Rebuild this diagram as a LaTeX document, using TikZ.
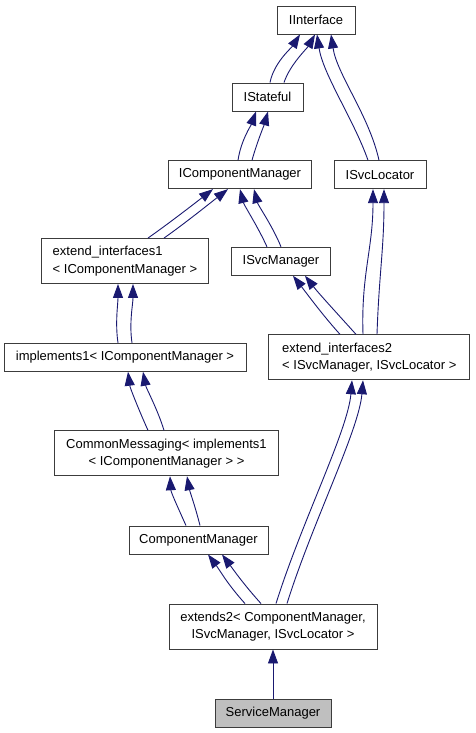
\documentclass[tikz,border=0pt]{standalone}
\usepackage{fontspec}
\setmainfont{Liberation Sans}
\usepackage{tikz}
\usetikzlibrary{arrows.meta}
\definecolor{edgeblue}{RGB}{25,25,112}
\definecolor{boxline}{RGB}{60,60,60}

\begin{document}
\begin{tikzpicture}[x=1pt, y=-1pt, font=\fontsize{13}{17.3}\selectfont]
      % Styles
      \tikzset{classbox/.style={draw=boxline, line width=0.9pt, fill=white, inner sep=0pt, minimum height=28pt}}
      \tikzset{twoline/.style={classbox, minimum height=45pt}}
      \tikzset{focusbox/.style={classbox, fill=black!25}}
      \tikzset{inherit/.style={draw=edgeblue, line width=0.9pt, -{Triangle[length=14pt, width=10pt]}}}

      \useasboundingbox (0,0) rectangle (475,733);

      % --- Interfaces at the top ---
      \node[classbox, minimum width=78pt] (iinterface) at (316,20) {IInterface};
      \node[classbox, minimum width=71pt] (istateful) at (267.5,97) {IStateful};
      \node[classbox, minimum width=143pt] (icompmgr) at (240,174.7) {IComponentManager};
      \node[classbox, minimum width=92pt] (isvcloc) at (380,174.7) {ISvcLocator};
      \node[classbox, minimum width=99pt] (isvcmgr) at (281,261.3) {ISvcManager};

      % --- Templates in the middle ---
      \node[twoline, minimum width=167pt, align=left] (extif1) at (125,261) {extend\_interfaces1\\< IComponentManager >};
      \node[classbox, minimum width=242pt] (impl1) at (125,357.3) {implements1< IComponentManager >};
      \node[twoline, minimum width=201pt, align=left] (extif2) at (369.3,357.3) {extend\_interfaces2\\< ISvcManager, ISvcLocator >};
      \node[twoline, minimum width=224pt, align=center] (commsg) at (166.5,453.3) {CommonMessaging< implements1\\< IComponentManager > >};

      % --- Concrete classes at the bottom ---
      \node[classbox, minimum width=139pt] (compmgr) at (198.5,540) {ComponentManager};
      \node[twoline, minimum width=208pt, align=center] (extends2) at (273,626.5) {extends2< ComponentManager,\\ISvcManager, ISvcLocator >};
      \node[focusbox, minimum width=116pt] (svcmgr) at (273,713) {ServiceManager};

      % --- Inheritance edges (doubled, as in the graph) ---
      \draw[inherit] ([xshift=2.5pt]istateful.north) .. controls +(4,-20) and +(-9,14) .. ([xshift=-16pt]iinterface.south);
      \draw[inherit] ([xshift=16.5pt]istateful.north) .. controls +(6,-18) and +(-8,14) .. ([xshift=-1pt]iinterface.south);

      \draw[inherit] ([xshift=-12pt]isvcloc.north) .. controls +(-14,-40) and +(6,40) .. ([xshift=1pt]iinterface.south);
      \draw[inherit] ([xshift=-1pt]isvcloc.north) .. controls +(-10,-45) and +(6,40) .. ([xshift=15pt]iinterface.south);

      \draw[inherit] ([xshift=-2pt]icompmgr.north) .. controls +(3,-20) and +(-5,14) .. ([xshift=-11.5pt]istateful.south);
      \draw[inherit] ([xshift=12pt]icompmgr.north) .. controls +(5,-18) and +(-4,14) .. ([xshift=0.5pt]istateful.south);

      \draw[inherit] ([xshift=23pt]extif1.north) .. controls +(20,-14) and +(-18,14) .. ([xshift=-27pt]icompmgr.south);
      \draw[inherit] ([xshift=39pt]extif1.north) .. controls +(20,-14) and +(-18,14) .. ([xshift=-12pt]icompmgr.south);

      \draw[inherit] ([xshift=-14pt]isvcmgr.north) .. controls +(-9,-20) and +(4,16) .. ([xshift=0pt]icompmgr.south);
      \draw[inherit] ([xshift=0pt]isvcmgr.north) .. controls +(-8,-20) and +(4,16) .. ([xshift=14pt]icompmgr.south);

      \draw[inherit] ([xshift=-29.3pt]extif2.north) .. controls +(-18,-20) and +(14,18) .. ([xshift=12pt]isvcmgr.south);
      \draw[inherit] ([xshift=-13.3pt]extif2.north) .. controls +(-18,-20) and +(14,18) .. ([xshift=24pt]isvcmgr.south);

      \draw[inherit] ([xshift=-6.3pt]extif2.north) .. controls +(-2,-60) and +(0,60) .. ([xshift=-7pt]isvcloc.south);
      \draw[inherit] ([xshift=7.7pt]extif2.north) .. controls +(2,-60) and +(0,60) .. ([xshift=4pt]isvcloc.south);

      \draw[inherit] ([xshift=-7pt]impl1.north) .. controls +(-3,-20) and +(0,20) .. ([xshift=-7pt]extif1.south);
      \draw[inherit] ([xshift=7pt]impl1.north) .. controls +(-3,-20) and +(0,20) .. ([xshift=8pt]extif1.south);

      \draw[inherit] ([xshift=-18.5pt]commsg.north) .. controls +(-9,-20) and +(2,16) .. ([xshift=3pt]impl1.south);
      \draw[inherit] ([xshift=-2.5pt]commsg.north) .. controls +(-6,-20) and +(3,16) .. ([xshift=18pt]impl1.south);

      \draw[inherit] ([xshift=-12.5pt]compmgr.north) .. controls +(-9,-20) and +(1,16) .. ([xshift=3.5pt]commsg.south);
      \draw[inherit] ([xshift=1.5pt]compmgr.north) .. controls +(-5,-20) and +(3,16) .. ([xshift=20.5pt]commsg.south);

      \draw[inherit] ([xshift=-28pt]extends2.north) .. controls +(-18,-20) and +(12,16) .. ([xshift=9.5pt]compmgr.south);
      \draw[inherit] ([xshift=-12pt]extends2.north) .. controls +(-18,-20) and +(12,16) .. ([xshift=23.5pt]compmgr.south);

      \draw[inherit] ([xshift=3pt]extends2.north) .. controls +(25,-80) and +(-4,50) .. ([xshift=-17.3pt]extif2.south);
      \draw[inherit] ([xshift=14pt]extends2.north) .. controls +(25,-80) and +(-4,50) .. ([xshift=-6.3pt]extif2.south);

      \draw[inherit] (svcmgr) -- (extends2);

    \end{tikzpicture}
\end{document}
